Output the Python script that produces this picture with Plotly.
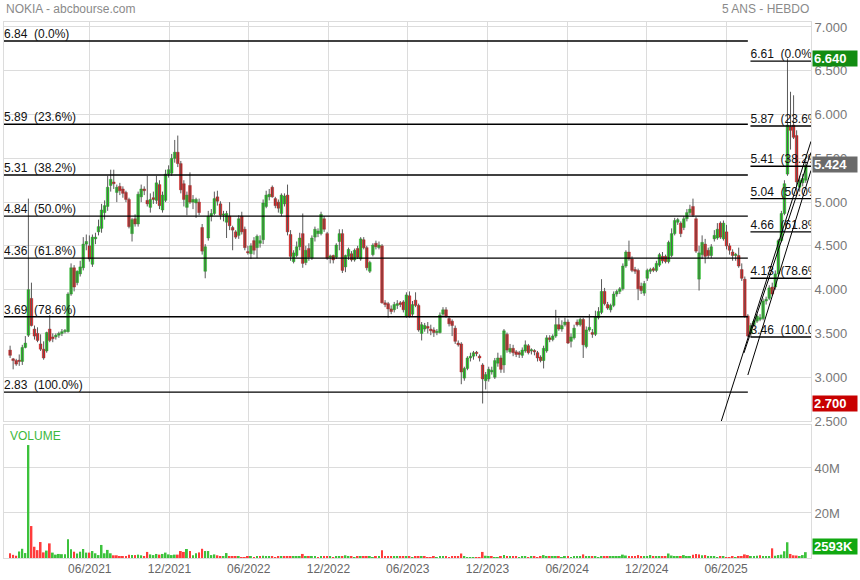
import plotly.graph_objects as go
import pandas as pd

# ---------------- DATA ----------------
first_week = "2020-11-30"

open_ = [
 3.31,3.21,3.19,3.19,3.18,3.34,3.48,3.90,3.55,3.50,
 3.38,3.32,3.30,3.55,3.46,3.46,3.48,3.50,3.52,3.52,
 3.95,4.25,4.08,4.18,4.25,4.52,4.50,4.29,4.58,4.66,
 4.70,4.88,4.95,5.19,5.23,5.11,5.18,5.15,5.11,5.03,
 4.64,4.81,4.75,5.06,5.15,5.02,4.94,5.05,5.02,5.20,
 4.91,5.02,5.32,5.33,5.50,5.57,5.44,5.21,4.94,5.19,
 5.00,4.99,5.00,4.71,4.21,
 4.59,4.84,4.87,5.06,4.98,4.85,4.77,4.84,4.71,4.66,
 4.62,4.84,4.69,4.43,4.41,4.56,4.48,4.53,4.57,4.95,
 5.06,5.17,5.04,5.00,4.87,4.98,5.08,4.63,4.32,4.39,
 4.49,4.64,4.31,4.47,4.36,4.60,4.64,4.64,4.81,4.64,
 4.37,4.39,4.37,4.55,4.64,4.26,4.38,4.41,4.34,4.47,
 4.35,4.57,4.48,4.21,4.40,4.53,4.48,4.50,3.85,3.84,
 3.78,3.77,3.82,3.85,3.86,
 3.70,3.93,3.72,3.88,3.82,3.50,3.55,3.58,3.55,3.54,
 3.51,3.51,3.72,3.77,3.67,3.64,3.56,3.39,3.38,2.99,
 3.10,3.22,3.24,3.28,3.24,3.14,2.96,2.98,3.06,3.00,
 3.16,3.22,3.14,3.49,3.29,3.33,3.29,3.28,3.25,3.30,
 3.36,3.30,3.30,3.28,3.23,3.19,3.30,3.45,3.43,3.47,
 3.60,3.55,3.60,3.63,3.41,3.45,3.63,3.60,3.66,3.35,
 3.54,3.51,3.49,3.68,3.74,3.98,
 3.83,3.77,3.82,3.95,3.98,4.01,4.27,4.43,4.35,4.23,
 4.22,4.04,3.96,4.13,4.21,4.24,4.22,4.28,4.38,4.38,
 4.32,4.39,4.64,4.77,4.76,4.71,4.81,4.88,4.95,4.81,
 4.12,4.40,4.52,4.45,4.39,4.58,4.59,4.76,4.58,4.66,
 4.50,4.43,4.39,4.39,4.23,4.12,3.70,3.50,3.60,3.64,
 3.66,3.67,3.87,3.90,4.03,4.03,4.18,4.56,4.87,5.32,
 5.86,5.88,5.76,5.17,5.22,5.25,
]

high_ = [
 3.36,3.22,3.21,3.26,3.37,3.47,5.04,4.08,3.59,3.57,
 3.49,3.41,3.52,3.71,3.50,3.50,3.52,3.55,3.55,3.97,
 4.30,4.28,4.22,4.33,4.60,4.63,4.62,4.63,4.65,4.80,
 4.98,5.02,5.30,5.37,5.37,5.20,5.22,5.18,5.13,5.05,
 4.82,4.86,5.12,5.20,5.18,5.30,5.10,5.12,5.30,5.25,
 5.12,5.37,5.42,5.55,5.71,5.76,5.47,5.25,5.12,5.34,
 5.08,5.05,5.04,4.75,4.52,
 4.90,4.92,5.12,5.13,5.01,4.90,4.90,5.00,4.73,4.68,
 4.85,4.89,4.72,4.50,4.53,4.60,4.63,4.62,5.03,5.13,
 5.15,5.19,5.06,5.03,5.10,5.10,5.20,4.68,4.45,4.55,
 4.65,4.87,4.50,4.53,4.62,4.72,4.70,4.89,4.84,4.66,
 4.40,4.40,4.53,4.69,4.69,4.40,4.48,4.44,4.47,4.50,
 4.60,4.60,4.50,4.33,4.53,4.56,4.55,4.52,3.88,3.86,
 3.82,3.86,3.88,3.87,3.88,
 3.97,3.98,3.87,3.97,3.84,3.63,3.62,3.63,3.60,3.57,
 3.55,3.74,3.80,3.80,3.70,3.66,3.59,3.42,3.40,3.12,
 3.24,3.28,3.30,3.30,3.26,3.16,3.06,3.12,3.12,3.22,
 3.28,3.25,3.55,3.51,3.38,3.37,3.31,3.30,3.34,3.42,
 3.38,3.33,3.32,3.30,3.25,3.36,3.48,3.48,3.49,3.77,
 3.68,3.65,3.68,3.66,3.50,3.60,3.66,3.68,3.68,3.58,
 3.72,3.55,3.76,3.80,4.12,4.02,
 3.86,3.84,3.98,4.00,4.03,4.30,4.45,4.56,4.38,4.26,
 4.24,4.08,4.10,4.24,4.25,4.26,4.33,4.42,4.43,4.40,
 4.56,4.70,4.82,4.82,4.78,4.84,4.92,4.97,5.04,4.83,
 4.50,4.62,4.58,4.48,4.52,4.68,4.76,4.78,4.79,4.74,
 4.53,4.46,4.42,4.48,4.30,4.15,3.72,3.62,3.66,3.72,
 3.72,3.90,3.92,4.05,4.08,4.22,4.58,4.90,5.25,6.64,
 6.26,6.22,5.82,5.30,5.32,5.48,
]

low_ = [
 3.22,3.09,3.13,3.13,3.14,3.33,3.46,3.58,3.43,3.40,
 3.30,3.20,3.28,3.40,3.40,3.43,3.45,3.47,3.50,3.51,
 3.93,3.98,4.05,4.15,4.22,4.45,4.32,4.26,4.52,4.62,
 4.65,4.80,4.90,5.12,5.15,5.00,5.08,5.05,5.00,4.70,
 4.55,4.72,4.72,5.00,5.08,4.95,4.88,4.98,4.98,4.92,
 4.88,5.00,5.28,5.30,5.45,5.40,5.10,4.95,4.85,4.98,
 4.92,4.82,4.85,4.40,4.13,
 4.56,4.78,4.85,4.96,4.80,4.78,4.59,4.68,4.45,4.58,
 4.58,4.63,4.45,4.40,4.35,4.40,4.36,4.48,4.52,4.93,
 5.02,5.05,4.93,4.88,4.84,4.95,4.62,4.33,4.30,4.37,
 4.45,4.25,4.28,4.33,4.34,4.55,4.60,4.62,4.66,4.34,
 4.30,4.30,4.35,4.45,4.19,4.20,4.34,4.32,4.32,4.35,
 4.33,4.46,4.22,4.19,4.38,4.46,4.46,3.84,3.80,3.68,
 3.72,3.74,3.78,3.80,3.74,
 3.68,3.68,3.70,3.80,3.52,3.42,3.52,3.50,3.48,3.46,
 3.48,3.50,3.70,3.68,3.58,3.47,3.38,3.35,2.92,2.96,
 3.08,3.18,3.20,3.24,3.18,2.70,2.86,2.95,3.03,2.98,
 3.12,3.05,3.05,3.28,3.27,3.24,3.23,3.22,3.22,3.28,
 3.26,3.26,3.25,3.18,3.17,3.10,3.28,3.40,3.41,3.45,
 3.53,3.52,3.58,3.38,3.34,3.43,3.58,3.58,3.22,3.33,
 3.52,3.45,3.47,3.66,3.72,3.82,
 3.77,3.74,3.80,3.92,3.95,3.99,4.25,4.33,4.20,4.18,
 3.88,3.95,3.93,4.10,4.18,4.20,4.20,4.26,4.30,4.30,
 4.30,4.37,4.62,4.74,4.60,4.68,4.78,4.85,4.83,4.42,
 3.99,4.35,4.30,4.36,4.36,4.55,4.57,4.58,4.56,4.46,
 4.40,4.33,4.33,4.25,4.10,3.68,3.46,3.46,3.57,3.62,
 3.64,3.65,3.83,3.88,3.93,4.00,4.15,4.54,4.85,5.30,
 5.60,5.72,5.18,5.12,5.18,5.22,
]

close_ = [
 3.25,3.19,3.15,3.18,3.34,3.39,4.00,3.59,3.47,3.42,
 3.32,3.22,3.51,3.42,3.44,3.48,3.50,3.52,3.53,3.95,
 4.25,4.03,4.21,4.26,4.52,4.55,4.35,4.60,4.60,4.72,
 4.91,4.96,5.17,5.26,5.21,5.17,5.13,5.10,5.03,4.72,
 4.80,4.75,5.09,5.15,5.13,4.98,5.03,5.03,5.22,4.96,
 5.08,5.32,5.37,5.50,5.57,5.44,5.14,5.03,5.08,5.00,
 5.03,5.03,4.88,4.44,4.49,
 4.84,4.87,5.04,5.01,4.85,4.86,4.87,4.73,4.68,4.60,
 4.81,4.66,4.48,4.42,4.50,4.45,4.61,4.56,4.99,5.08,
 5.09,5.06,4.96,4.93,5.08,5.07,4.66,4.38,4.42,4.49,
 4.59,4.30,4.45,4.37,4.59,4.69,4.67,4.86,4.69,4.36,
 4.37,4.34,4.51,4.64,4.22,4.39,4.46,4.34,4.45,4.37,
 4.58,4.48,4.25,4.31,4.51,4.49,4.51,3.85,3.83,3.78,
 3.75,3.83,3.84,3.83,3.77,
 3.94,3.70,3.83,3.82,3.54,3.60,3.59,3.56,3.53,3.51,
 3.52,3.71,3.77,3.70,3.61,3.59,3.41,3.37,3.06,3.10,
 3.22,3.24,3.28,3.27,3.22,2.98,3.03,3.09,3.08,3.19,
 3.22,3.09,3.53,3.31,3.33,3.28,3.26,3.26,3.31,3.37,
 3.28,3.30,3.29,3.22,3.19,3.33,3.45,3.43,3.47,3.60,
 3.55,3.59,3.63,3.39,3.46,3.56,3.60,3.66,3.37,3.54,
 3.57,3.49,3.69,3.75,3.98,3.84,
 3.79,3.82,3.95,3.98,4.01,4.27,4.43,4.35,4.22,4.21,
 4.01,3.99,4.07,4.22,4.23,4.22,4.30,4.40,4.33,4.32,
 4.54,4.64,4.79,4.80,4.64,4.81,4.88,4.92,4.85,4.44,
 4.42,4.54,4.38,4.39,4.49,4.62,4.69,4.60,4.76,4.50,
 4.45,4.39,4.39,4.27,4.13,3.70,3.47,3.59,3.64,3.70,
 3.68,3.87,3.89,4.02,3.95,4.18,4.56,4.87,5.21,5.88,
 5.82,5.74,5.23,5.25,5.27,5.424,
]

volume_m = [
 2.1,1.4,1.0,2.9,4.1,2.2,50.2,14.2,5.0,3.5,
 7.1,2.5,3.3,6.5,2.4,1.5,1.8,1.7,1.7,8.3,
 3.9,2.8,2.0,2.8,4.0,2.4,2.4,3.1,2.1,1.3,
 5.8,2.1,3.6,2.1,1.2,1.2,0.6,0.6,0.9,1.5,
 1.3,1.3,1.5,1.2,0.9,2.7,1.6,1.3,1.8,1.5,
 1.8,2.4,1.6,1.3,1.5,1.5,3.1,2.7,4.0,3.1,
 1.2,2.1,2.5,4.1,3.1,3.1,1.3,1.6,1.2,0.6,
 0.7,2.2,0.9,0.9,0.6,0.6,0.3,0.4,0.6,
 0.5,0.4,0.5,0.7,1.0,0.9,0.6,0.5,0.4,0.5,
 0.7,0.6,0.9,0.8,0.7,0.6,0.5,1.8,0.6,0.5,
 0.6,0.5,0.4,0.7,0.6,0.8,0.5,0.4,0.5,0.6,
 0.9,1.2,0.6,0.5,0.4,0.6,0.5,0.6,0.8,0.5,
 0.4,0.5,0.5,3.4,0.9,0.7,0.6,0.5,0.5,0.6,
 0.5,0.5,0.6,0.4,0.5,0.6,0.7,0.5,0.4,0.4,
 0.5,0.4,0.6,0.5,0.5,0.4,0.6,0.5,0.8,2.0,
 0.5,0.4,0.4,0.4,0.3,0.4,2.7,1.0,0.8,0.5,
 0.4,0.4,0.5,1.3,0.9,0.6,0.5,0.5,0.4,0.5,
 0.5,0.4,0.5,0.5,0.4,0.5,1.3,0.9,0.6,0.5,
 0.5,0.6,0.4,0.5,0.5,0.4,0.5,0.6,0.5,1.6,
 0.8,0.6,0.5,0.5,0.4,0.5,0.6,0.5,0.5,0.6,
 0.5,0.6,1.5,1.1,0.9,0.7,0.8,1.3,0.6,0.5,
 0.6,1.3,0.8,0.6,0.7,0.5,0.6,2.0,1.1,0.9,
 0.8,0.7,1.3,0.8,0.9,1.4,1.8,1.6,1.2,1.3,
 0.6,0.5,0.5,0.4,0.5,0.5,0.4,0.4,0.5,0.4,
 0.6,0.9,1.6,1.3,0.8,0.5,1.0,1.2,0.6,0.9,
 0.7,4.3,1.0,1.3,1.5,3.0,7.0,1.8,1.2,1.1,
 0.9,1.3,2.593,
]

# Fibonacci retracement sets (user-drawn levels)
fib1_levels = [6.84, 5.89, 5.31, 4.84, 4.36, 3.69, 2.83]
fib1_pcts = ["0.0%", "23.6%", "38.2%", "50.0%", "61.8%", "78.6%", "100.0%"]
fib1_start, fib1_end = "2020-11-16", "2025-07-21"
fib2_levels = [6.61, 5.87, 5.41, 5.04, 4.66, 4.13, 3.46]
fib2_pcts = ["0.0%", "23.6%", "38.2%", "50.0%", "61.8%", "78.6%", "100.0%"]
fib2_start, fib2_end = "2025-07-27", "2025-12-13"

# Trend lines (start date, start price, end date, end price)
trend_x0 = ["2025-05-21", "2025-07-12", "2025-07-21"]
trend_y0 = [2.498, 3.277, 3.025]
trend_x1 = ["2025-12-13", "2025-12-13", "2025-12-13"]
trend_y1 = [5.694, 5.568, 5.362]

price_ticks = [2.5, 3.0, 3.5, 4.0, 4.5, 5.0, 5.5, 6.0, 6.5, 7.0]
month_ticks = ["2021-06-01", "2021-12-01", "2022-06-01", "2022-12-01", "2023-06-01",
               "2023-12-01", "2024-06-01", "2024-12-01", "2025-06-01"]
month_labels = ["06/2021", "12/2021", "06/2022", "12/2022", "06/2023",
                "12/2023", "06/2024", "12/2024", "06/2025"]
period_high, period_low, last_close, last_volume = 6.64, 2.70, 5.424, 2.593

# ---------------- FIGURE ----------------
n = len(close_)
dates = pd.date_range(first_week, periods=n, freq="7D")
FONT = "Liberation Sans, Arial, sans-serif"
GRID = "#dcdcdc"
x_range = ["2020-11-16", "2025-12-13"]
WEEK_MS = 7 * 86400000

fig = go.Figure()

# wicks (gray high-low lines)
fig.add_trace(go.Ohlc(
    x=dates, open=open_, high=high_, low=low_, close=close_,
    xaxis="x", yaxis="y", tickwidth=0,
    increasing=dict(line=dict(color="#5a5a5a", width=1)),
    decreasing=dict(line=dict(color="#5a5a5a", width=1)),
    showlegend=False, hoverinfo="skip"))

# bodies
body_base = [min(o, c) for o, c in zip(open_, close_)]
body_len = [max(abs(c - o), 0.015) for o, c in zip(open_, close_)]
body_fill = ["#1ed31e" if c >= o else "#e01b1b" for o, c in zip(open_, close_)]
body_edge = ["#139a13" if c >= o else "#a31010" for o, c in zip(open_, close_)]
fig.add_trace(go.Bar(
    x=dates, y=body_len, base=body_base, xaxis="x", yaxis="y",
    marker=dict(color=body_fill, line=dict(color=body_edge, width=0.4)),
    width=WEEK_MS * 0.88, showlegend=False, hoverinfo="skip"))

vol_colors = []
for i in range(n):
    prev = close_[i - 1] if i > 0 else open_[0]
    vol_colors.append("#3cc23c" if close_[i] >= prev else "#ff3b3b")

fig.add_trace(go.Bar(
    x=dates, y=volume_m, xaxis="x2", yaxis="y2",
    marker=dict(color=vol_colors, line=dict(width=0)),
    width=WEEK_MS * 0.62, showlegend=False, hoverinfo="skip"))

# Fibonacci lines + labels
for lv, pc in zip(fib1_levels, fib1_pcts):
    fig.add_trace(go.Scatter(x=[fib1_start, fib1_end], y=[lv, lv], mode="lines",
                             line=dict(color="black", width=1.4), xaxis="x", yaxis="y",
                             showlegend=False, hoverinfo="skip"))
    fig.add_trace(go.Scatter(x=[fib1_start], y=[lv], mode="text",
                             text=[f"{lv:.2f}\u00a0\u00a0({pc})"], textposition="top right",
                             textfont=dict(family=FONT, size=12, color="#111"),
                             xaxis="x", yaxis="y", showlegend=False, hoverinfo="skip"))
for lv, pc in zip(fib2_levels, fib2_pcts):
    fig.add_trace(go.Scatter(x=[fib2_start, fib2_end], y=[lv, lv], mode="lines",
                             line=dict(color="black", width=1.4), xaxis="x", yaxis="y",
                             showlegend=False, hoverinfo="skip"))
    fig.add_trace(go.Scatter(x=[fib2_start], y=[lv], mode="text",
                             text=[f"{lv:.2f}\u00a0\u00a0({pc})"], textposition="top right",
                             textfont=dict(family=FONT, size=12, color="#111"),
                             xaxis="x", yaxis="y", showlegend=False, hoverinfo="skip",
                             cliponaxis=True))

for xa, ya, xb, yb in zip(trend_x0, trend_y0, trend_x1, trend_y1):
    fig.add_trace(go.Scatter(x=[xa, xb], y=[ya, yb], mode="lines",
                             line=dict(color="black", width=1), xaxis="x", yaxis="y",
                             showlegend=False, hoverinfo="skip"))

fig.update_layout(
    width=860, height=580,
    margin=dict(l=4, r=49, t=22, b=22, autoexpand=False),
    paper_bgcolor="white", plot_bgcolor="white",
    font=dict(family=FONT, size=12, color="#666"),
    showlegend=False, barmode="overlay",
    xaxis=dict(domain=[0, 1], anchor="y", range=x_range, type="date",
               showticklabels=False, tickvals=month_ticks, showgrid=True,
               gridcolor=GRID, gridwidth=1, zeroline=False, automargin=False,
               showline=True, mirror=True, linecolor=GRID,
               rangeslider=dict(visible=False), ticks=""),
    yaxis=dict(domain=[0.2556, 1], anchor="x", side="right", range=[2.5, 7.057],
               tickvals=price_ticks, ticktext=[f"{v:.3f}" for v in price_ticks],
               showgrid=True, gridcolor=GRID, zeroline=False, automargin=False,
               showline=True, mirror=True, linecolor=GRID, ticks="",
               tickfont=dict(family=FONT, size=13, color="#777")),
    xaxis2=dict(domain=[0, 1], anchor="y2", range=x_range, type="date", matches="x",
                tickvals=month_ticks, ticktext=month_labels, showgrid=True,
                gridcolor=GRID, zeroline=False, showline=True, mirror=True,
                linecolor=GRID, ticks="", automargin=False,
                tickfont=dict(family=FONT, size=12, color="#666")),
    yaxis2=dict(domain=[0, 0.2481], anchor="x2", side="right", range=[0, 59.1],
                tickvals=[0, 20, 40], ticktext=["", "20M", "40M"], showgrid=True,
                gridcolor=GRID, zeroline=False, showline=True, mirror=True,
                linecolor=GRID, ticks="", automargin=False,
                tickfont=dict(family=FONT, size=13, color="#777")),
)

annots = [
    dict(text="NOKIA - abcbourse.com", xref="paper", yref="paper", x=0, y=1,
         xanchor="left", yanchor="middle", yshift=13, showarrow=False,
         font=dict(family=FONT, size=12, color="#8a8a8a")),
    dict(text="5 ANS - HEBDO", xref="paper", yref="paper", x=1, y=1,
         xanchor="right", yanchor="middle", yshift=13, showarrow=False,
         font=dict(family=FONT, size=12, color="#8a8a8a")),
    dict(text="VOLUME", xref="paper", yref="y2 domain", x=0, y=1, xshift=4,
         xanchor="left", yanchor="top", yshift=-2, showarrow=False,
         font=dict(family=FONT, size=12, color="#3cb83c")),
]
badges = [
    (f"{period_high:.3f}", period_high, "y", "#128c12", 0),
    (f"{last_close:.3f}", last_close, "y", "#6a6a6a", 0),
    (f"{period_low:.3f}", period_low, "y", "#c80000", 0),
    (f"{round(last_volume * 1000)}K", last_volume, "y2", "#10a810", 6),
]
for txt, yv, yr, bg, ys in badges:
    annots.append(dict(text=f"<b>{txt}</b>", xref="paper", yref=yr, x=1, y=yv,
                       xanchor="left", yanchor="middle", xshift=1, yshift=ys,
                       showarrow=False, bgcolor=bg, width=42, height=13,
                       borderpad=1, align="left",
                       font=dict(family=FONT, size=13, color="white")))
fig.update_layout(annotations=annots)

fig.write_html("out.html", config={"displayModeBar": False},
               post_script="document.body.style.margin='0px';")
